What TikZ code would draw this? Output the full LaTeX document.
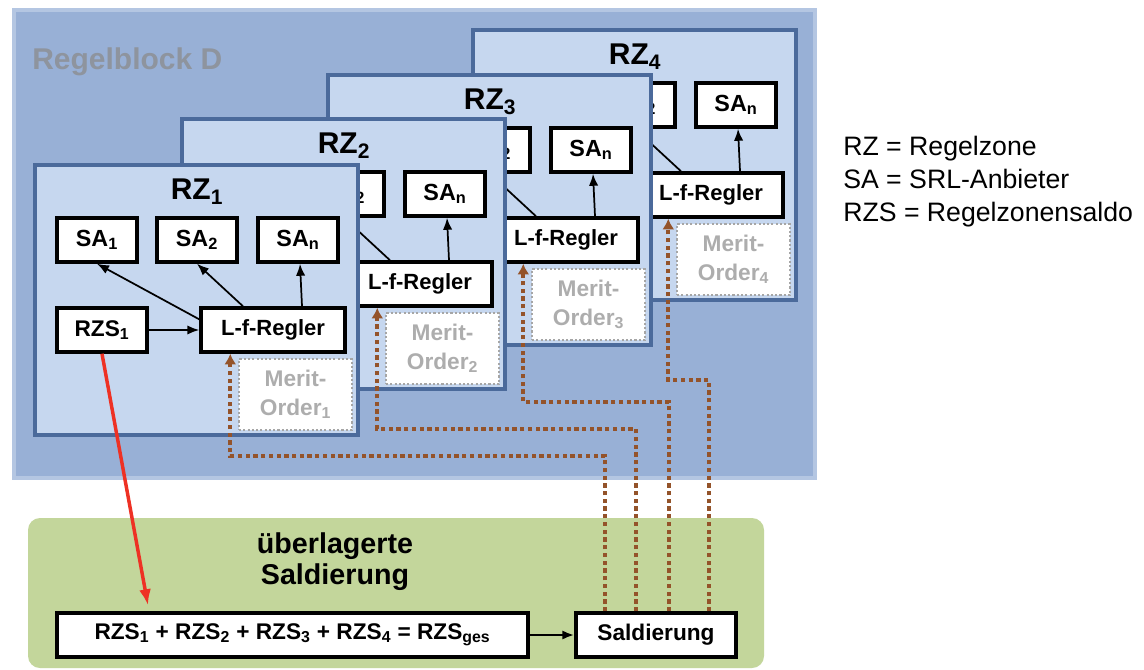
\documentclass[tikz,border=0pt]{standalone}
\usepackage{fontspec}
\setmainfont{Liberation Sans}
\usetikzlibrary{arrows.meta}
\definecolor{blockbg}{HTML}{98B0D6}
\definecolor{blockedge}{HTML}{B4C6E2}
\definecolor{rzfill}{HTML}{C6D7EF}
\definecolor{rzedge}{HTML}{4B6A9B}
\definecolor{mobrown}{HTML}{94532A}
\definecolor{mogray}{HTML}{A6A6A6}
\definecolor{motext}{HTML}{ADADAD}
\definecolor{greenbg}{HTML}{C3D69B}
\definecolor{redarr}{HTML}{EE3124}
\definecolor{rbgray}{HTML}{8E949E}
\newcommand\fsz[2]{\fontsize{#1}{#2}\selectfont}
\newcommand\rzone[3]{%
\begin{scope}[shift={(#2,#3)}]
 \node[rzframe] (rz#1) at (161.5,135) {};
 \node[rztitle] (rzt#1) at (162,27) {RZ\textsubscript{#1}};
 \node[sabox] (saA#1) at (62,75) {SA\textsubscript{1}};
 \node[sabox] (saB#1) at (162,75) {SA\textsubscript{2}};
 \node[sabox] (saN#1) at (263,75) {SA\textsubscript{n}};
 \node[rzsbox] (rzs#1) at (67,165) {RZS\textsubscript{#1}};
 \node[lfbox] (lf#1) at (238,165) {L-f-Regler};
 \node[mobox] (mo#1) at (260.5,229.5) {Merit-\\Order\textsubscript{#1}};
 \draw[arr] ([yshift=8pt]lf#1.west) -- (saA#1.south);
 \draw[arr] ([xshift=-22.5pt]lf#1.north) -- (saB#1.south);
 \draw[arr] ([xshift=21.75pt]lf#1.north) -- ([xshift=1.5pt]saN#1.south);
 \draw[arr] (rzs#1.east) -- (lf#1.west);
\end{scope}}
\begin{document}
\begin{tikzpicture}[x=0.75pt,y=-0.75pt,
  rzframe/.style={draw=rzedge, fill=rzfill, line width=3.4pt, minimum width=242.25pt, minimum height=202.5pt, inner sep=0pt},
  rztitle/.style={font=\bfseries\fsz{22.5}{26}, inner sep=0pt},
  wbox/.style={draw=black, fill=white, line width=2.6pt, inner sep=0pt, minimum height=33pt},
  sabox/.style={wbox, minimum width=60pt, font=\bfseries\fsz{17.5}{20}},
  rzsbox/.style={wbox, minimum width=67.5pt, font=\bfseries\fsz{17}{20}},
  lfbox/.style={wbox, minimum width=108pt, font=\bfseries\fsz{16.5}{20}},
  mobox/.style={draw=mogray, fill=white, line width=2pt, dash pattern=on 1.6pt off 1.6pt, minimum width=84.75pt, minimum height=53.25pt, inner sep=0pt, align=center, text=motext, font=\bfseries\fsz{17}{21.5}},
  arr/.style={draw=black, line width=1.3pt, -{Latex[length=9pt,width=7pt]}},
  moline/.style={draw=mobrown, line width=3.3pt, dash pattern=on 3.2pt off 2.6pt, -{Latex[length=8pt,width=9pt]}},
  redline/.style={draw=redarr, line width=2.6pt, -{Latex[length=12pt,width=9pt]}},
  legend/.style={anchor=base west, font=\fsz{20}{24}, inner sep=0pt}
]
\useasboundingbox (0,0) rectangle (1144,670);
\fill[white] (0,0) rectangle (1144,670);
% Regelblock D
\draw[draw=blockedge, fill=blockbg, line width=3pt] (14,10) rectangle (815,478);
\node[anchor=base west, inner sep=0pt, font=\bfseries\fsz{22.5}{26}, text=rbgray] (rbl) at (32,70) {Regelblock D};
% Regelzonen
\rzone{4}{473}{30}
\rzone{3}{328}{75}
\rzone{2}{182}{119}
\rzone{1}{35}{165}
% green area
\fill[greenbg, rounded corners=9pt] (28,518) rectangle (764,668);
\node[font=\bfseries\fsz{21.5}{23.3}, align=center, inner sep=0pt] (uebt) at (335,562) {überlagerte\\Saldierung};
\node[wbox, minimum width=353.25pt, font=\bfseries\fsz{17}{20}] (formula) at (292.5,635)
  {RZS\textsubscript{1} + RZS\textsubscript{2} + RZS\textsubscript{3} + RZS\textsubscript{4} = RZS\textsubscript{ges}};
\node[wbox, minimum width=120pt, font=\bfseries\fsz{17}{20}] (sald) at (656,635) {Saldierung};
\draw[draw=black, line width=1.8pt, -{Latex[length=9pt,width=7pt]}] (formula.east) -- (sald.west);
% Merit-Order feedback
\coordinate (h1) at (605,456);
\coordinate (h2) at (636,429);
\coordinate (h3) at (669,402);
\coordinate (h4) at (709,380);
\draw[moline] (sald.north -| h1) -- (h1) -| ([xshift=23.25pt]lf1.south west);
\draw[moline] (sald.north -| h2) -- (h2) -| ([xshift=23.25pt]lf2.south west);
\draw[moline] (sald.north -| h3) -- (h3) -| ([xshift=23.25pt]lf3.south west);
\draw[moline] (sald.north -| h4) -- (h4) -| ([xshift=23.25pt]lf4.south west);
% red arrow
\draw[redline] (rzs1.south) -- ([xshift=-108.4pt,yshift=4.5pt]formula.north);
% legend
\node[legend] (leg1) at (843,156) {RZ = Regelzone};
\node[legend] (leg2) at (843,189) {SA = SRL-Anbieter};
\node[legend] (leg3) at (843,221) {RZS = Regelzonensaldo};
\end{tikzpicture}
\end{document}
